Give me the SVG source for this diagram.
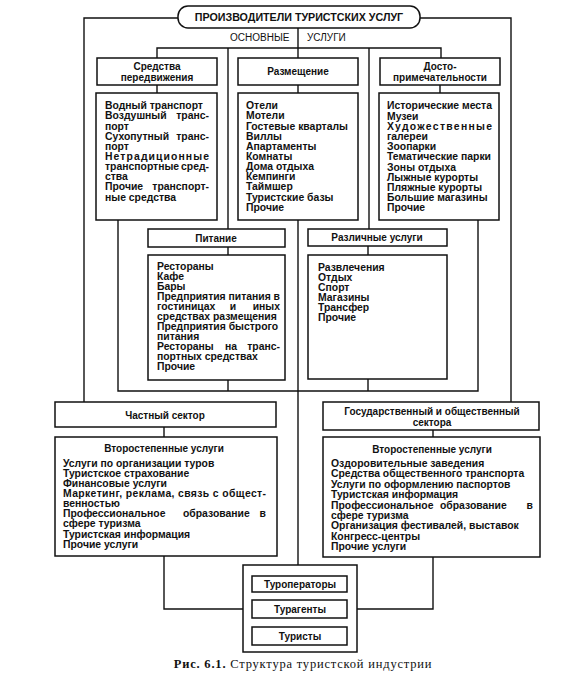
<svg xmlns="http://www.w3.org/2000/svg" width="577" height="676" viewBox="0 0 577 676">
<style>
.box{fill:#fff;stroke:#111;stroke-width:1.5}
.ln{fill:none;stroke:#111;stroke-width:1.4}
text{font-family:"Liberation Sans",Arial,sans-serif;font-size:10.4px;font-weight:bold;fill:#111}
.c{text-anchor:middle}
.e{text-anchor:end}
.h{font-size:10px}
.n{font-weight:normal;font-size:10px}
.cap{font-family:"Liberation Serif","Times New Roman",serif;font-size:12.5px;font-weight:normal;letter-spacing:0.8px}
</style>
<rect width="577" height="676" fill="#fff"/>
<g id="connectors">
<path class="ln" d="M178,18 H84 V402"/>
<path class="ln" d="M420,18 H511 V402"/>
<path class="ln" d="M298,28 V58"/>
<path class="ln" d="M157,58 V48 H441 V58"/>
<path class="ln" d="M228,48 V229"/>
<path class="ln" d="M369,48 V229"/>
<path class="ln" d="M157,85 V93 M298,85 V93 M440,85 V93"/>
<path class="ln" d="M118,220 V391 H478 V220"/>
<path class="ln" d="M298,220 V565"/>
<path class="ln" d="M228,247 V255 M228,380 V391"/>
<path class="ln" d="M368,246 V255 M368,379 V391"/>
<path class="ln" d="M164,427 V437 M433,430 V437"/>
<path class="ln" d="M164,556 V609 H243"/>
<path class="ln" d="M433,557 V609 H357"/>
<path class="ln" d="M243,584 H252 M347,584 H357 M243,636 H252 M347,636 H357"/>
</g>
<g id="title">
<rect class="box" x="178" y="6" width="242" height="22" rx="10"/>
<text class="c" x="299" y="21" style="font-size:10.7px">ПРОИЗВОДИТЕЛИ ТУРИСТСКИХ УСЛУГ</text>
</g>
<g id="main-services-label">
<text class="n" x="230" y="41">ОСНОВНЫЕ</text>
<text class="n" x="307" y="41">УСЛУГИ</text>
</g>
<g id="transport-header">
<rect class="box" x="97" y="58" width="120" height="27"/>
<text class="c h" x="157" y="70">Средства</text>
<text class="c h" x="157" y="81">передвижения</text>
</g>
<g id="accommodation-header">
<rect class="box" x="238" y="58" width="120" height="27"/>
<text class="c h" x="298" y="75">Размещение</text>
</g>
<g id="attractions-header">
<rect class="box" x="380" y="58" width="120" height="27"/>
<text class="c h" x="440" y="70">Досто-</text>
<text class="c h" x="440" y="81">примечательности</text>
</g>
<g id="transport-list">
<rect class="box" x="96" y="93" width="121" height="127"/>
<text x="105" y="108.5">Водный транспорт</text>
<text x="105" y="119">Воздушный</text><text class="e" x="209" y="119">транс-</text>
<text x="105" y="129.5">порт</text>
<text x="105" y="139.5">Сухопутный</text><text class="e" x="209" y="139.5">транс-</text>
<text x="105" y="149.5">порт</text>
<text x="105" y="159.5" textLength="104" lengthAdjust="spacing">Нетрадиционные</text>
<text x="105" y="169.5">транспортные</text><text class="e" x="209" y="169.5">сред-</text>
<text x="105" y="179.5">ства</text>
<text x="105" y="190">Прочие</text><text class="e" x="209" y="190">транспорт-</text>
<text x="105" y="200.5">ные средства</text>
</g>
<g id="accommodation-list">
<rect class="box" x="238" y="93" width="120" height="127"/>
<text x="246" y="108.5">Отели</text>
<text x="246" y="119">Мотели</text>
<text x="246" y="129.5">Гостевые кварталы</text>
<text x="246" y="140">Виллы</text>
<text x="246" y="150">Апартаменты</text>
<text x="246" y="160">Комнаты</text>
<text x="246" y="170">Дома отдыха</text>
<text x="246" y="180">Кемпинги</text>
<text x="246" y="190">Таймшер</text>
<text x="246" y="200.5">Туристские базы</text>
<text x="246" y="211">Прочие</text>
</g>
<g id="attractions-list">
<rect class="box" x="379" y="93" width="120" height="127"/>
<text x="387" y="109">Исторические места</text>
<text x="387" y="119.5">Музеи</text>
<text x="387" y="130" textLength="105" lengthAdjust="spacing">Художественные</text>
<text x="387" y="140">галереи</text>
<text x="387" y="150">Зоопарки</text>
<text x="387" y="160">Тематические парки</text>
<text x="387" y="170.5">Зоны отдыха</text>
<text x="387" y="180.5">Лыжные курорты</text>
<text x="387" y="191">Пляжные курорты</text>
<text x="387" y="201">Большие магазины</text>
<text x="387" y="211">Прочие</text>
</g>
<g id="food-header">
<rect class="box" x="148" y="229" width="137" height="18"/>
<text class="c h" x="216" y="241.5">Питание</text>
</g>
<g id="food-list">
<rect class="box" x="148" y="255" width="137" height="125"/>
<text x="157" y="269.5">Рестораны</text>
<text x="157" y="279.5">Кафе</text>
<text x="157" y="289.5">Бары</text>
<text x="157" y="299.5" textLength="123" lengthAdjust="spacingAndGlyphs">Предприятия питания в</text>
<text x="157" y="309.5">гостиницах</text><text class="c" x="233" y="309.5">и</text><text class="e" x="280" y="309.5">иных</text>
<text x="157" y="319.5">средствах размещения</text>
<text x="157" y="329.5">Предприятия быстрого</text>
<text x="157" y="340">питания</text>
<text x="157" y="350">Рестораны</text><text class="c" x="231" y="350">на</text><text class="e" x="280" y="350">транс-</text>
<text x="157" y="359.5">портных средствах</text>
<text x="157" y="369.5">Прочие</text>
</g>
<g id="misc-header">
<rect class="box" x="308" y="229" width="139" height="17"/>
<text class="c h" x="377" y="241">Различные услуги</text>
</g>
<g id="misc-list">
<rect class="box" x="308" y="255" width="139" height="124"/>
<text x="318" y="270.5">Развлечения</text>
<text x="318" y="280.5">Отдых</text>
<text x="318" y="290.5">Спорт</text>
<text x="318" y="300.5">Магазины</text>
<text x="318" y="310.5">Трансфер</text>
<text x="318" y="321">Прочие</text>
</g>
<g id="private-sector">
<rect class="box" x="55" y="402" width="221" height="25"/>
<text class="c h" x="165" y="418.5">Частный сектор</text>
</g>
<g id="private-secondary">
<rect class="box" x="55" y="437" width="222" height="119"/>
<text class="c h" x="164" y="451.5">Второстепенные услуги</text>
<text x="63" y="466.5">Услуги по организации туров</text>
<text x="63" y="476.5">Туристское страхование</text>
<text x="63" y="486.5">Финансовые услуги</text>
<text x="63" y="496.5" textLength="203" lengthAdjust="spacing">Маркетинг, реклама, связь с общест-</text>
<text x="63" y="506.5">венностью</text>
<text x="63" y="516.5">Профессиональное</text><text x="183" y="516.5">образование</text><text class="e" x="266" y="516.5">в</text>
<text x="63" y="526.5">сфере туризма</text>
<text x="63" y="538">Туристская информация</text>
<text x="63" y="548">Прочие услуги</text>
</g>
<g id="public-sector">
<rect class="box" x="323" y="402" width="216" height="28"/>
<text class="c h" x="432" y="415">Государственный и общественный</text>
<text class="c h" x="432" y="425.5">сектора</text>
</g>
<g id="public-secondary">
<rect class="box" x="323" y="437" width="217" height="120"/>
<text class="c h" x="432" y="452.5">Второстепенные услуги</text>
<text x="331" y="466.5">Оздоровительные заведения</text>
<text x="331" y="476.5">Средства общественного транспорта</text>
<text x="331" y="487.5">Услуги по оформлению паспортов</text>
<text x="331" y="497.5">Туристская информация</text>
<text x="331" y="508.5">Профессиональное</text><text x="440" y="508.5">образование</text><text class="e" x="533" y="508.5">в</text>
<text x="331" y="518.5">сфере туризма</text>
<text x="331" y="528.5">Организация фестивалей, выставок</text>
<text x="331" y="539.5">Конгресс-центры</text>
<text x="331" y="549.5">Прочие услуги</text>
</g>
<g id="bottom-group">
<rect class="box" x="243" y="565" width="114" height="87"/>
</g>
<g id="tour-operators">
<rect class="box" x="252" y="576" width="95" height="16"/>
<text class="c h" x="300" y="587.5">Туроператоры</text>
</g>
<g id="travel-agents">
<rect class="box" x="252" y="600" width="95" height="18"/>
<text class="c h" x="300" y="612.5">Турагенты</text>
</g>
<g id="tourists">
<rect class="box" x="252" y="627" width="95" height="18"/>
<text class="c h" x="300" y="639.5">Туристы</text>
</g>
<g id="caption">
<text class="cap" x="303" y="668" text-anchor="middle"><tspan font-weight="bold">Рис. 6.1.</tspan> Структура туристской индустрии</text>
</g>
</svg>
